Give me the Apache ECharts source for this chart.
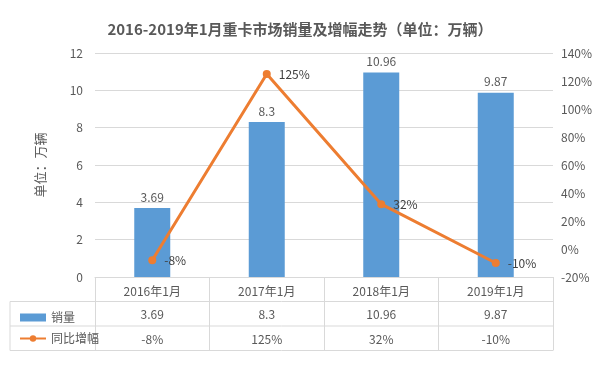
<!DOCTYPE html>
<html><head><meta charset="utf-8">
<script src="https://cdn.jsdelivr.net/npm/echarts@6/dist/echarts.min.js"></script>
<style>html,body{margin:0;padding:0;background:#fff}#c{width:600px;height:378px}</style>
</head><body><div id="c"></div>
<script>
const categories = ['2016年1月','2017年1月','2018年1月','2019年1月'];
const sales = [3.69, 8.3, 10.96, 9.87];
const growth = [-8, 125, 32, -10];
const seriesNames = ['销量','同比增幅'];
const titleText = '2016-2019年1月重卡市场销量及增幅走势（单位：万辆）';

const W = 600, H = 378;
const gL = 95, gR = 553, gT = 53, gB = 277, rowH = 24.5, tableLeft = 10;
const FONT = "'Noto Sans CJK SC', sans-serif";
const txt = '#595959', lineC = '#d9d9d9';

const chart = echarts.init(document.getElementById('c'), null, {renderer:'canvas'});
chart.setOption({
  backgroundColor:'#fff',
  textStyle:{fontFamily:FONT},
  title:{text:titleText, left:'center', top:17,
    textStyle:{fontSize:15, fontWeight:'bold', color:txt, fontFamily:FONT}},
  grid:{left:gL, right:W-gR, top:gT, bottom:H-gB},
  legend:{orient:'vertical', left:14, top:gB+rowH+5, itemGap:9, itemWidth:26, itemHeight:8,
    textStyle:{color:txt, fontSize:12},
    data:[{name:seriesNames[0], icon:'rect'},{name:seriesNames[1]}]},
  xAxis:[
    {type:'category', data:categories, axisLine:{lineStyle:{color:lineC}},
      axisTick:{show:true, length:rowH*3, lineStyle:{color:lineC}},
      axisLabel:{color:txt, fontSize:12, margin:8}},
    {type:'category', data:categories, position:'bottom', offset:rowH,
      axisLine:{show:false}, axisTick:{show:false},
      axisLabel:{color:txt, fontSize:12, margin:7, formatter:(v,i)=>String(sales[i])}},
    {type:'category', data:categories, position:'bottom', offset:rowH*2,
      axisLine:{show:false}, axisTick:{show:false},
      axisLabel:{color:txt, fontSize:12, margin:7, formatter:(v,i)=>growth[i]+'%'}}
  ],
  yAxis:[
    {type:'value', min:0, max:12, interval:2, name:'单位：万辆', nameLocation:'middle', nameRotate:90, nameGap:48,
      nameTextStyle:{color:txt, fontSize:13},
      axisLine:{show:false}, axisTick:{show:false},
      axisLabel:{color:txt, fontSize:12, margin:12},
      splitLine:{lineStyle:{color:lineC}}},
    {type:'value', min:-20, max:140, interval:20,
      axisLine:{show:false}, axisTick:{show:false}, splitLine:{show:false},
      axisLabel:{color:txt, fontSize:12, margin:8, formatter:'{value}%'}}
  ],
  series:[
    {name:seriesNames[0], type:'bar', data:sales, barWidth:36, itemStyle:{color:'#5B9BD5'},
      label:{show:true, position:'top', color:txt, fontSize:12, distance:5}},
    {name:seriesNames[1], type:'line', yAxisIndex:1, data:growth, symbol:'circle', symbolSize:8,
      itemStyle:{color:'#ED7D31'}, lineStyle:{color:'#ED7D31', width:3},
      label:{show:true, position:'right', distance:8, color:'#404040', fontSize:12, formatter:'{c}%'}}
  ],
  graphic:[
    {type:'line', shape:{x1:tableLeft, y1:gB+rowH, x2:gR, y2:gB+rowH}, style:{stroke:lineC, lineWidth:1}},
    {type:'line', shape:{x1:tableLeft, y1:gB+rowH*2, x2:gR, y2:gB+rowH*2}, style:{stroke:lineC, lineWidth:1}},
    {type:'line', shape:{x1:tableLeft, y1:gB+rowH*3, x2:gR, y2:gB+rowH*3}, style:{stroke:lineC, lineWidth:1}},
    {type:'line', shape:{x1:tableLeft, y1:gB+rowH, x2:tableLeft, y2:gB+rowH*3}, style:{stroke:lineC, lineWidth:1}}
  ]
});
</script></body></html>
